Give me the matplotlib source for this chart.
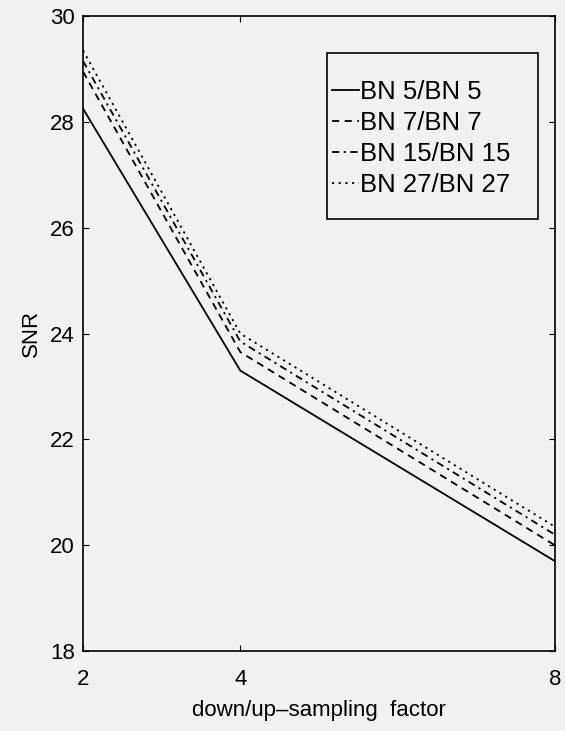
import numpy as np
import matplotlib.pyplot as plt
from matplotlib.patches import Rectangle

plt.rcParams.update({'font.size': 16, 'font.family': ['Liberation Sans', 'DejaVu Sans']})

factor = [2, 4, 8]
labels = ["BN 5/BN 5", "BN 7/BN 7", "BN 15/BN 15", "BN 27/BN 27"]
snr_bn5 = [28.25, 23.3, 19.7]
snr_bn7 = [28.95, 23.65, 20.0]
snr_bn15 = [29.15, 23.85, 20.2]
snr_bn27 = [29.35, 24.0, 20.35]
styles = ["-", (0, (4, 3)), (0, (4, 2.5, 1.2, 2.5)), (0, (1.2, 2.5))]

BG = "#f1f1f3"
fig = plt.figure(figsize=(5.65, 7.31), dpi=100, facecolor=BG)
ax = fig.add_axes([0.147, 0.1094, 0.835, 0.8686])
ax.set_facecolor(BG)

for y, ls, lab in zip([snr_bn5, snr_bn7, snr_bn15, snr_bn27], styles, labels):
    ax.plot(factor, y, color="black", lw=1.3, linestyle=ls, label=lab)

ax.set_xlim(2, 8)
ax.set_ylim(18, 30)
ax.set_xticks([2, 4, 8])
ax.set_yticks(np.arange(18, 31, 2))
ax.tick_params(direction="in", top=True, right=True, length=4)
ax.tick_params(axis="x", pad=13)
ax.tick_params(axis="y", pad=6)
for s in ax.spines.values():
    s.set_linewidth(1.2)

ax.set_xlabel("down/up\u2013sampling  factor", labelpad=7)
ax.set_ylabel("SNR", labelpad=6)

# legend entries without frame, box drawn separately
leg = ax.legend(loc="upper left", bbox_to_anchor=(0.528, 0.9), borderaxespad=0,
                frameon=False, fontsize=18.5, handlelength=1.05, handletextpad=0.05,
                labelspacing=0.28, borderpad=0)
ax.add_patch(Rectangle((0.517, 0.68), 0.447, 0.262, transform=ax.transAxes,
                       fill=False, edgecolor="black", lw=1.2, zorder=5))

fig.savefig("out.png", dpi=100, facecolor=fig.get_facecolor())
